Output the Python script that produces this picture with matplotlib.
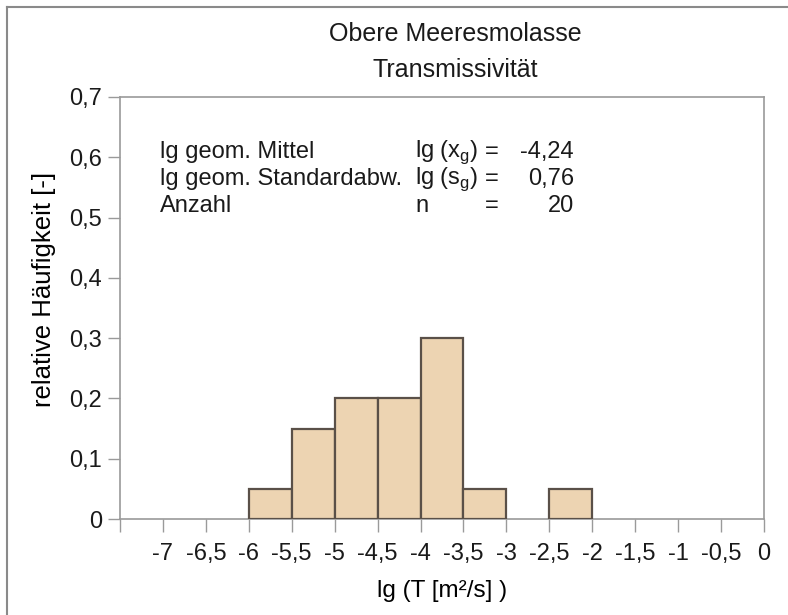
import matplotlib.pyplot as plt
from matplotlib.lines import Line2D
import numpy as np

# ── Data ────────────────────────────────────────────────────────────────
bin_edges = [-6.0, -5.5, -5.0, -4.5, -4.0, -3.5, -3.0, -2.5, -2.0]
rel_freq = [0.05, 0.15, 0.20, 0.20, 0.30, 0.05, 0.00, 0.05]

x_ticks = [-7.5, -7, -6.5, -6, -5.5, -5, -4.5, -4, -3.5, -3, -2.5, -2, -1.5, -1, -0.5, 0]
x_tick_labels = ["", "-7", "-6,5", "-6", "-5,5", "-5", "-4,5", "-4", "-3,5", "-3",
                 "-2,5", "-2", "-1,5", "-1", "-0,5", "0"]
y_ticks = [0, 0.1, 0.2, 0.3, 0.4, 0.5, 0.6, 0.7]
y_tick_labels = ["0", "0,1", "0,2", "0,3", "0,4", "0,5", "0,6", "0,7"]

stat_names = ["lg geom. Mittel", "lg geom. Standardabw.", "Anzahl"]
stat_symbols = [r"lg (x$_\mathregular{g}$)", r"lg (s$_\mathregular{g}$)", "n"]
stat_values = ["-4,24", "0,76", "20"]

# ── Style ───────────────────────────────────────────────────────────────
FRAME = "#9a9a9a"
TEXT = "#1a1a1a"
BAR_FILL = "#edd4b2"
BAR_EDGE = "#5a5048"
FS = 17

plt.rcParams.update({
    "font.family": ["Liberation Sans", "DejaVu Sans"],
    "font.size": FS,
    "text.color": TEXT,
    "axes.edgecolor": FRAME,
    "xtick.color": FRAME,
    "ytick.color": FRAME,
    "xtick.labelcolor": TEXT,
    "ytick.labelcolor": TEXT,
})

fig = plt.figure(figsize=(7.88, 6.15), dpi=100)
ax = fig.add_axes([120 / 788, 96 / 615, 644 / 788, 422 / 615])

# skip empty bins so no edge line is drawn on the axis
edges = np.array(bin_edges)
freq = np.array(rel_freq)
keep = freq > 0
ax.bar(edges[:-1][keep], freq[keep], width=np.diff(edges)[keep], align="edge",
       color=BAR_FILL, edgecolor=BAR_EDGE, linewidth=1.6, zorder=3)

ax.set_xlim(-7.5, 0)
ax.set_ylim(0, 0.7)
ax.set_xticks(x_ticks)
ax.set_xticklabels(x_tick_labels, fontsize=FS)
ax.set_yticks(y_ticks)
ax.set_yticklabels(y_tick_labels, fontsize=FS)
ax.tick_params(axis="x", direction="out", length=9, width=1, pad=8)
ax.tick_params(axis="y", direction="out", length=9, width=1, pad=4)
for sp in ax.spines.values():
    sp.set_linewidth(1.2)

ax.set_xlabel("lg (T [m²/s] )", fontsize=FS + 0.5, labelpad=11)
ax.set_ylabel("relative Häufigkeit [-]", fontsize=FS + 1.5)
ax.yaxis.set_label_coords((56 - 120) / 644, (519 - 289) / 422)

# Title, two lines
fig.text(455 / 788, 1 - 34 / 615, "Obere Meeresmolasse", ha="center", va="center", fontsize=18)
fig.text(455 / 788, 1 - 70 / 615, "Transmissivität", ha="center", va="center", fontsize=18)

# Statistics block
for i, (name, sym, val) in enumerate(zip(stat_names, stat_symbols, stat_values)):
    yy = 1 - (152 + i * 27) / 615
    fig.text(160 / 788, yy, name, ha="left", va="center", fontsize=FS)
    fig.text(415 / 788, yy, sym, ha="left", va="center", fontsize=FS)
    fig.text(492 / 788, yy, "=", ha="center", va="center", fontsize=FS)
    fig.text(574 / 788, yy, val, ha="right", va="center", fontsize=FS)

# Outer border (top and left only, figure is a crop)
x0, y0 = 7 / 788, 1 - 7 / 615
fig.add_artist(Line2D([x0, 1], [y0, y0], color="#8a8a8a", linewidth=1.5))
fig.add_artist(Line2D([x0, x0], [0, y0], color="#8a8a8a", linewidth=1.5))

fig.savefig("out.png", dpi=100)
